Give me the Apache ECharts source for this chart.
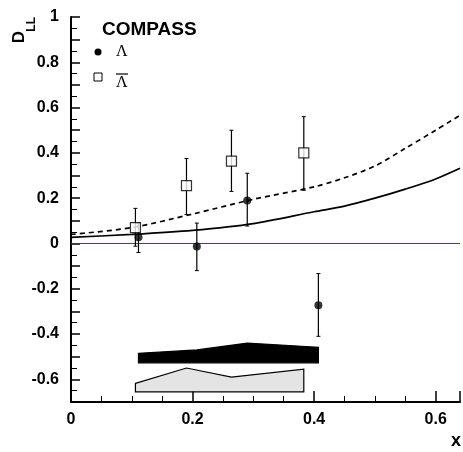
<!DOCTYPE html>
<html lang="en">
<head>
<meta charset="UTF-8">
<title>COMPASS D_LL</title>
<script src="https://cdn.jsdelivr.net/npm/echarts@6.0.0/dist/echarts.min.js"></script>
<style>body{margin:0;background:#fff}</style>
</head>
<body>
<div id="main" style="width:463px;height:452px;"></div>
<script>
// Lambda points: x, D_LL, err low, err high
const lamX = [0.111, 0.207, 0.29, 0.407];
const lamY = [0.028, -0.013, 0.19, -0.273];
const lamLo = [-0.04, -0.12, 0.077, -0.41];
const lamHi = [0.09, 0.09, 0.31, -0.133];
// anti-Lambda points
const alamX = [0.106, 0.19, 0.264, 0.383];
const alamY = [0.07, 0.255, 0.364, 0.4];
const alamLo = [-0.012, 0.128, 0.23, 0.235];
const alamHi = [0.155, 0.375, 0.5, 0.56];
// model curves
const curveX = [0, 0.1, 0.2, 0.3, 0.4, 0.45, 0.5, 0.55, 0.6, 0.64];
const solidY = [0.027, 0.04, 0.058, 0.088, 0.14, 0.165, 0.2, 0.24, 0.285, 0.332];
const dashY = [0.04, 0.07, 0.13, 0.195, 0.25, 0.29, 0.342, 0.42, 0.5, 0.566];
// systematic bands: top edge points, flat bottom
const bandLamX = [0.111, 0.207, 0.29, 0.407];
const bandLamTop = [-0.485, -0.47, -0.44, -0.458];
const bandLamBot = -0.527;
const bandAlamX = [0.106, 0.19, 0.264, 0.383];
const bandAlamTop = [-0.618, -0.55, -0.59, -0.555];
const bandAlamBot = -0.655;

const chart = echarts.init(document.getElementById('main'));
const font = 'Liberation Sans, Arial, sans-serif';

function errSeries(xs, lo, hi) {
  return {
    type: 'custom',
    data: xs.map((x, i) => [x, lo[i], hi[i]]),
    renderItem: (p, api) => {
      const a = api.coord([api.value(0), api.value(1)]);
      const b = api.coord([api.value(0), api.value(2)]);
      return {
        type: 'group', children: [
          { type: 'line', shape: { x1: a[0], y1: a[1], x2: b[0], y2: b[1] }, style: { stroke: '#000', lineWidth: 1.2 } },
          { type: 'line', shape: { x1: a[0] - 2, y1: a[1], x2: a[0] + 2, y2: a[1] }, style: { stroke: '#000', lineWidth: 1 } },
          { type: 'line', shape: { x1: b[0] - 2, y1: b[1], x2: b[0] + 2, y2: b[1] }, style: { stroke: '#000', lineWidth: 1 } }
        ]
      };
    },
    z: 3
  };
}

function bandSeries(xs, top, bot, fill) {
  return {
    type: 'custom',
    data: [0],
    renderItem: (p, api) => {
      const pts = xs.map((x, i) => api.coord([x, top[i]]));
      pts.push(api.coord([xs[xs.length - 1], bot]));
      pts.push(api.coord([xs[0], bot]));
      return { type: 'polygon', shape: { points: pts }, style: { fill: fill, stroke: '#000', lineWidth: 1.2 } };
    },
    z: 2
  };
}

chart.setOption({
  animation: false,
  grid: { left: 71, right: 0, top: 17, bottom: 50 },
  xAxis: {
    type: 'value', min: 0, max: 0.64, interval: 0.2,
    axisLine: { onZero: false, lineStyle: { color: '#000', width: 2 } },
    axisTick: { inside: true, length: 11, lineStyle: { color: '#000', width: 1.5 } },
    minorTick: { show: true, splitNumber: 4, length: 6, lineStyle: { color: '#000' } },
    splitLine: { show: false },
    axisLabel: {
      color: '#000', fontWeight: 'bold', fontSize: 16, fontFamily: font, margin: 10,
      formatter: v => (Math.abs(v - 0.64) < 1e-6 ? '' : (+v.toFixed(1)).toString())
    }
  },
  yAxis: {
    type: 'value', min: -0.7, max: 1, interval: 0.1,
    axisLine: { show: true, lineStyle: { color: '#000', width: 2 } },
    axisTick: { inside: true, length: 9, lineStyle: { color: '#000', width: 1.5 } },
    minorTick: { show: true, splitNumber: 2, length: 6, lineStyle: { color: '#000' } },
    splitLine: { show: false },
    axisLabel: {
      color: '#000', fontWeight: 'bold', fontSize: 16, fontFamily: font, margin: 12,
      formatter: v => {
        const r = Math.round(v * 10);
        if (r % 2 !== 0) return '';
        return (+(r / 10).toFixed(1)).toString();
      }
    }
  },
  graphic: [
    { type: 'text', left: 11, top: 31, rotation: Math.PI / 2, style: { text: 'D', font: 'bold 17px ' + font, fill: '#000' } },
    { type: 'text', left: 26, top: 17, rotation: Math.PI / 2, style: { text: 'LL', font: 'bold 12px ' + font, fill: '#000' } },
    { type: 'text', x: 102, y: 20, style: { text: 'COMPASS', font: 'bold 19px ' + font, fill: '#000' } },
    { type: 'circle', shape: { cx: 98, cy: 52, r: 3.5 }, style: { fill: '#000' } },
    { type: 'text', x: 116, y: 44, style: { text: 'Λ', font: '16px Liberation Serif, serif', fill: '#000' } },
    { type: 'rect', shape: { x: 94, y: 73, width: 8, height: 8 }, style: { fill: '#fff', stroke: '#000', lineWidth: 1 } },
    { type: 'line', shape: { x1: 116, y1: 74, x2: 128, y2: 74 }, style: { stroke: '#000', lineWidth: 1.2 } },
    { type: 'text', x: 116, y: 75, style: { text: 'Λ', font: '16px Liberation Serif, serif', fill: '#000' } },
    { type: 'text', x: 451, y: 432, style: { text: 'x', font: 'bold 18px ' + font, fill: '#000' } }
  ],
  series: [
    {
      type: 'line', data: [[0, 0], [0.64, 0]], symbol: 'none', silent: true,
      lineStyle: { color: '#3030e0', width: 1 }, z: 1
    },
    {
      type: 'line', data: curveX.map((x, i) => [x, solidY[i]]), symbol: 'none', smooth: 0.3,
      lineStyle: { color: '#000', width: 1.7 }, z: 2
    },
    {
      type: 'line', data: curveX.map((x, i) => [x, dashY[i]]), symbol: 'none', smooth: 0.3,
      lineStyle: { color: '#000', width: 1.7, type: [5, 4] }, z: 2
    },
    bandSeries(bandLamX, bandLamTop, bandLamBot, '#000'),
    bandSeries(bandAlamX, bandAlamTop, bandAlamBot, '#e4e4e4'),
    errSeries(lamX, lamLo, lamHi),
    errSeries(alamX, alamLo, alamHi),
    {
      type: 'scatter', data: lamX.map((x, i) => [x, lamY[i]]), symbol: 'circle', symbolSize: 8,
      itemStyle: { color: '#000' }, z: 4
    },
    {
      type: 'scatter', data: alamX.map((x, i) => [x, alamY[i]]), symbol: 'rect', symbolSize: 10,
      itemStyle: { color: '#fff', borderColor: '#000', borderWidth: 1.2 }, z: 4
    }
  ]
});
</script>
</body>
</html>
